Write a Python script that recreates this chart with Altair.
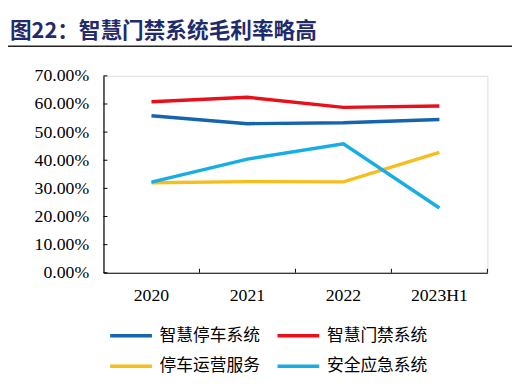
import altair as alt
import pandas as pd

categories = ["2020", "2021", "2022", "2023H1"]
series_names = ["智慧停车系统", "智慧门禁系统", "停车运营服务", "安全应急系统"]
smart_parking = [55.8, 53.0, 53.3, 54.5]
smart_access = [60.8, 62.4, 58.8, 59.3]
parking_ops = [32.0, 32.4, 32.3, 42.8]
safety_emerg = [32.2, 40.4, 45.8, 23.0]
colors = ["#1764AE", "#E8101A", "#F7BD1B", "#16AEE3"]
y_ticks = [0, 10, 20, 30, 40, 50, 60, 70]
x_tick_cats = ["2021", "2022", "2023H1"]
title_text = "图22：智慧门禁系统毛利率略高"

rows = []
for name, vals in zip(series_names, [smart_parking, smart_access, parking_ops, safety_emerg]):
    for c, v in zip(categories, vals):
        rows.append({"cat": c, "series": name, "value": v / 100})
df = pd.DataFrame(rows)

# legend lays entries out column by column: order so rows read as in the reference
legend_order = [series_names[0], series_names[2], series_names[1], series_names[3]]
legend_colors = [colors[series_names.index(s)] for s in legend_order]

W, H = 390, 200
serif = "Liberation Serif"
cjk = "Noto Sans CJK SC"

x_scale = alt.Scale(domain=categories, paddingInner=0, paddingOuter=0)
y_scale = alt.Scale(domain=[0, 0.7], nice=False)

x_axis = alt.Axis(labelAngle=0, ticks=False, domainColor="#000", domainWidth=1.2,
                  labelFont=serif, labelFontSize=18, labelColor="#000",
                  labelPadding=14, grid=False, title=None)
y_axis = alt.Axis(values=[t / 100 for t in y_ticks], format=".2%", ticks=False,
                  domainColor="#000", domainWidth=1.2, labelFont=serif,
                  labelFontSize=18, labelColor="#000", labelPadding=15, grid=False,
                  labelOverlap=False, labelFlush=False, title=None)

lines = alt.Chart(df).mark_line(strokeWidth=3.5, strokeCap="butt").encode(
    x=alt.X("cat:N", scale=x_scale, sort=categories, axis=x_axis),
    y=alt.Y("value:Q", scale=y_scale, axis=y_axis),
    color=alt.Color("series:N", scale=alt.Scale(domain=legend_order, range=legend_colors),
                    legend=alt.Legend(orient="none", legendX=5, legendY=241, columns=2,
                                      title=None, symbolType="stroke", symbolSize=1800,
                                      symbolStrokeWidth=3.5, labelFont=cjk, labelFontSize=17,
                                      labelColor="#000", labelOffset=6, columnPadding=10,
                                      rowPadding=-10, padding=0, labelLimit=300)),
)

ytick_df = pd.DataFrame({"v": [t / 100 for t in y_ticks]})
yticks = alt.Chart(ytick_df).mark_rule(color="#000", strokeWidth=1).encode(
    y=alt.Y("v:Q", scale=y_scale, axis=y_axis), x=alt.value(0), x2=alt.value(4)
)

xtick_df = pd.DataFrame({"c": x_tick_cats})
xticks = alt.Chart(xtick_df).mark_rule(color="#000", strokeWidth=1).encode(
    x=alt.X("c:N", scale=x_scale, bandPosition=0, axis=x_axis), y=alt.value(H), y2=alt.value(H - 4)
)
xend = alt.Chart(pd.DataFrame({"c": [categories[-1]]})).mark_rule(color="#000", strokeWidth=1).encode(
    x=alt.X("c:N", scale=x_scale, bandPosition=1, axis=x_axis), y=alt.value(H), y2=alt.value(H - 4)
)

title = alt.Chart(pd.DataFrame({"t": [title_text]})).mark_text(
    align="left", baseline="alphabetic", font=cjk, fontSize=22, fontWeight="bold", color="#1F2B6C"
).encode(text="t:N", x=alt.value(-95), y=alt.value(-38))

underline = alt.Chart(pd.DataFrame({"a": [0]})).mark_rule(color="#222", strokeWidth=1.5).encode(
    x=alt.value(-97), x2=alt.value(415), y=alt.value(-30)
)

chart = alt.layer(title, underline, lines, yticks, xticks, xend).properties(
    width=W, height=H,
    autosize=alt.AutoSizeParams(type="none"),
    padding={"left": 97, "top": 66, "right": 25, "bottom": 104},
).configure_view(stroke=None).configure_axis(
    labelFont=serif, labelFontSize=18, labelColor="#000"
).configure(background="white")

chart.save("out.html", embed_options={"renderer": "svg", "actions": False})
